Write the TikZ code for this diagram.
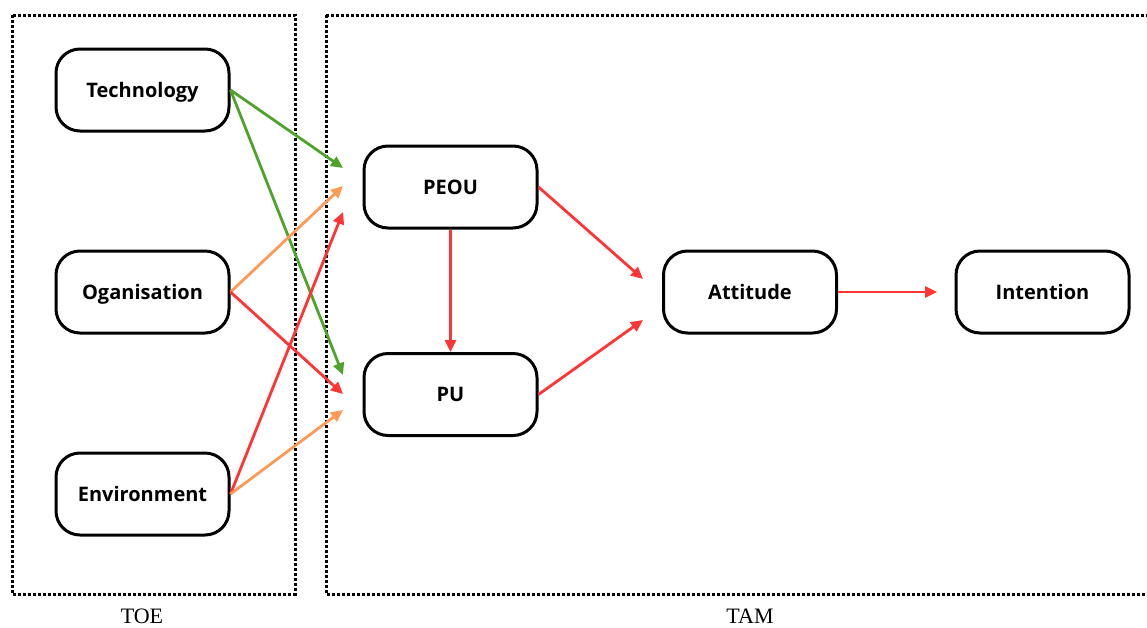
\documentclass[tikz,border=0pt]{standalone}
\usepackage{fontspec}
\setmainfont{Open Sans}
\newfontfamily\serifface{Liberation Serif}
\usetikzlibrary{arrows.meta}
\definecolor{linkgreen}{HTML}{4FA32B}
\definecolor{linkorange}{HTML}{FF9955}
\definecolor{linkred}{HTML}{FF3535}
\tikzset{
  concept/.style={draw=black, line width=3pt, rounded corners=24pt,
    minimum width=173pt, minimum height=82pt, inner sep=0pt,
    text height=16.5pt, text depth=2pt,
    font=\fontsize{20}{23}\selectfont\bfseries},
  frame/.style={draw=black, line width=3pt, dash pattern=on 2.6pt off 2.4pt},
  link/.style={line width=2.8pt, -{Triangle[length=12pt,width=11pt]}},
  grouplabel/.style={inner sep=0pt, font=\serifface\fontsize{22}{24}\selectfont}
}
\begin{document}
\begin{tikzpicture}[x=1pt,y=-1pt]
\useasboundingbox (0,0) rectangle (1147,627);
% group frames
\draw[frame] (12,15) rectangle (295,594);
\draw[frame] (326,15) -- (1160,15) (326,15) -- (326,594) -- (1160,594);
\node[grouplabel] (toe) at (142,616) {TOE};
\node[grouplabel] (tam) at (750,616) {TAM};
% TOE factors
\node[concept] (tech) at (142.5,90) {Technology};
\node[concept] (org) at (142.5,292) {Oganisation};
\node[concept] (env) at (142.5,494) {Environment};
% TAM constructs
\node[concept] (peou) at (450.5,187) {PEOU};
\node[concept] (pu) at (450.5,394.5) {PU};
\node[concept] (att) at (750,292) {Attitude};
\node[concept] (int) at (1042.5,292) {Intention};
% arrow ends
\coordinate (peouA) at (343,168);
\coordinate (peouB) at (343,186);
\coordinate (peouC) at (343,212);
\coordinate (puA) at (343,375);
\coordinate (puB) at (343,394);
\coordinate (puC) at (343,410);
\coordinate (attA) at (643,279);
\coordinate (attB) at (643,320);
\coordinate (intA) at (937,292);
% TOE -> TAM
\draw[link, linkgreen] (tech.east) -- (peouA);
\draw[link, linkgreen] (tech.east) -- (puA);
\draw[link, linkorange] (org.east) -- (peouB);
\draw[link, linkred] (org.east) -- (puB);
\draw[link, linkred] (env.east) -- (peouC);
\draw[link, linkorange] (env.east) -- (puC);
% TAM internal
\draw[link, linkred] (peou.south) -- (pu.north);
\draw[link, linkred] (peou.east) -- (attA);
\draw[link, linkred] (pu.east) -- (attB);
\draw[link, linkred] (att.east) -- (intA);
\end{tikzpicture}
\end{document}
